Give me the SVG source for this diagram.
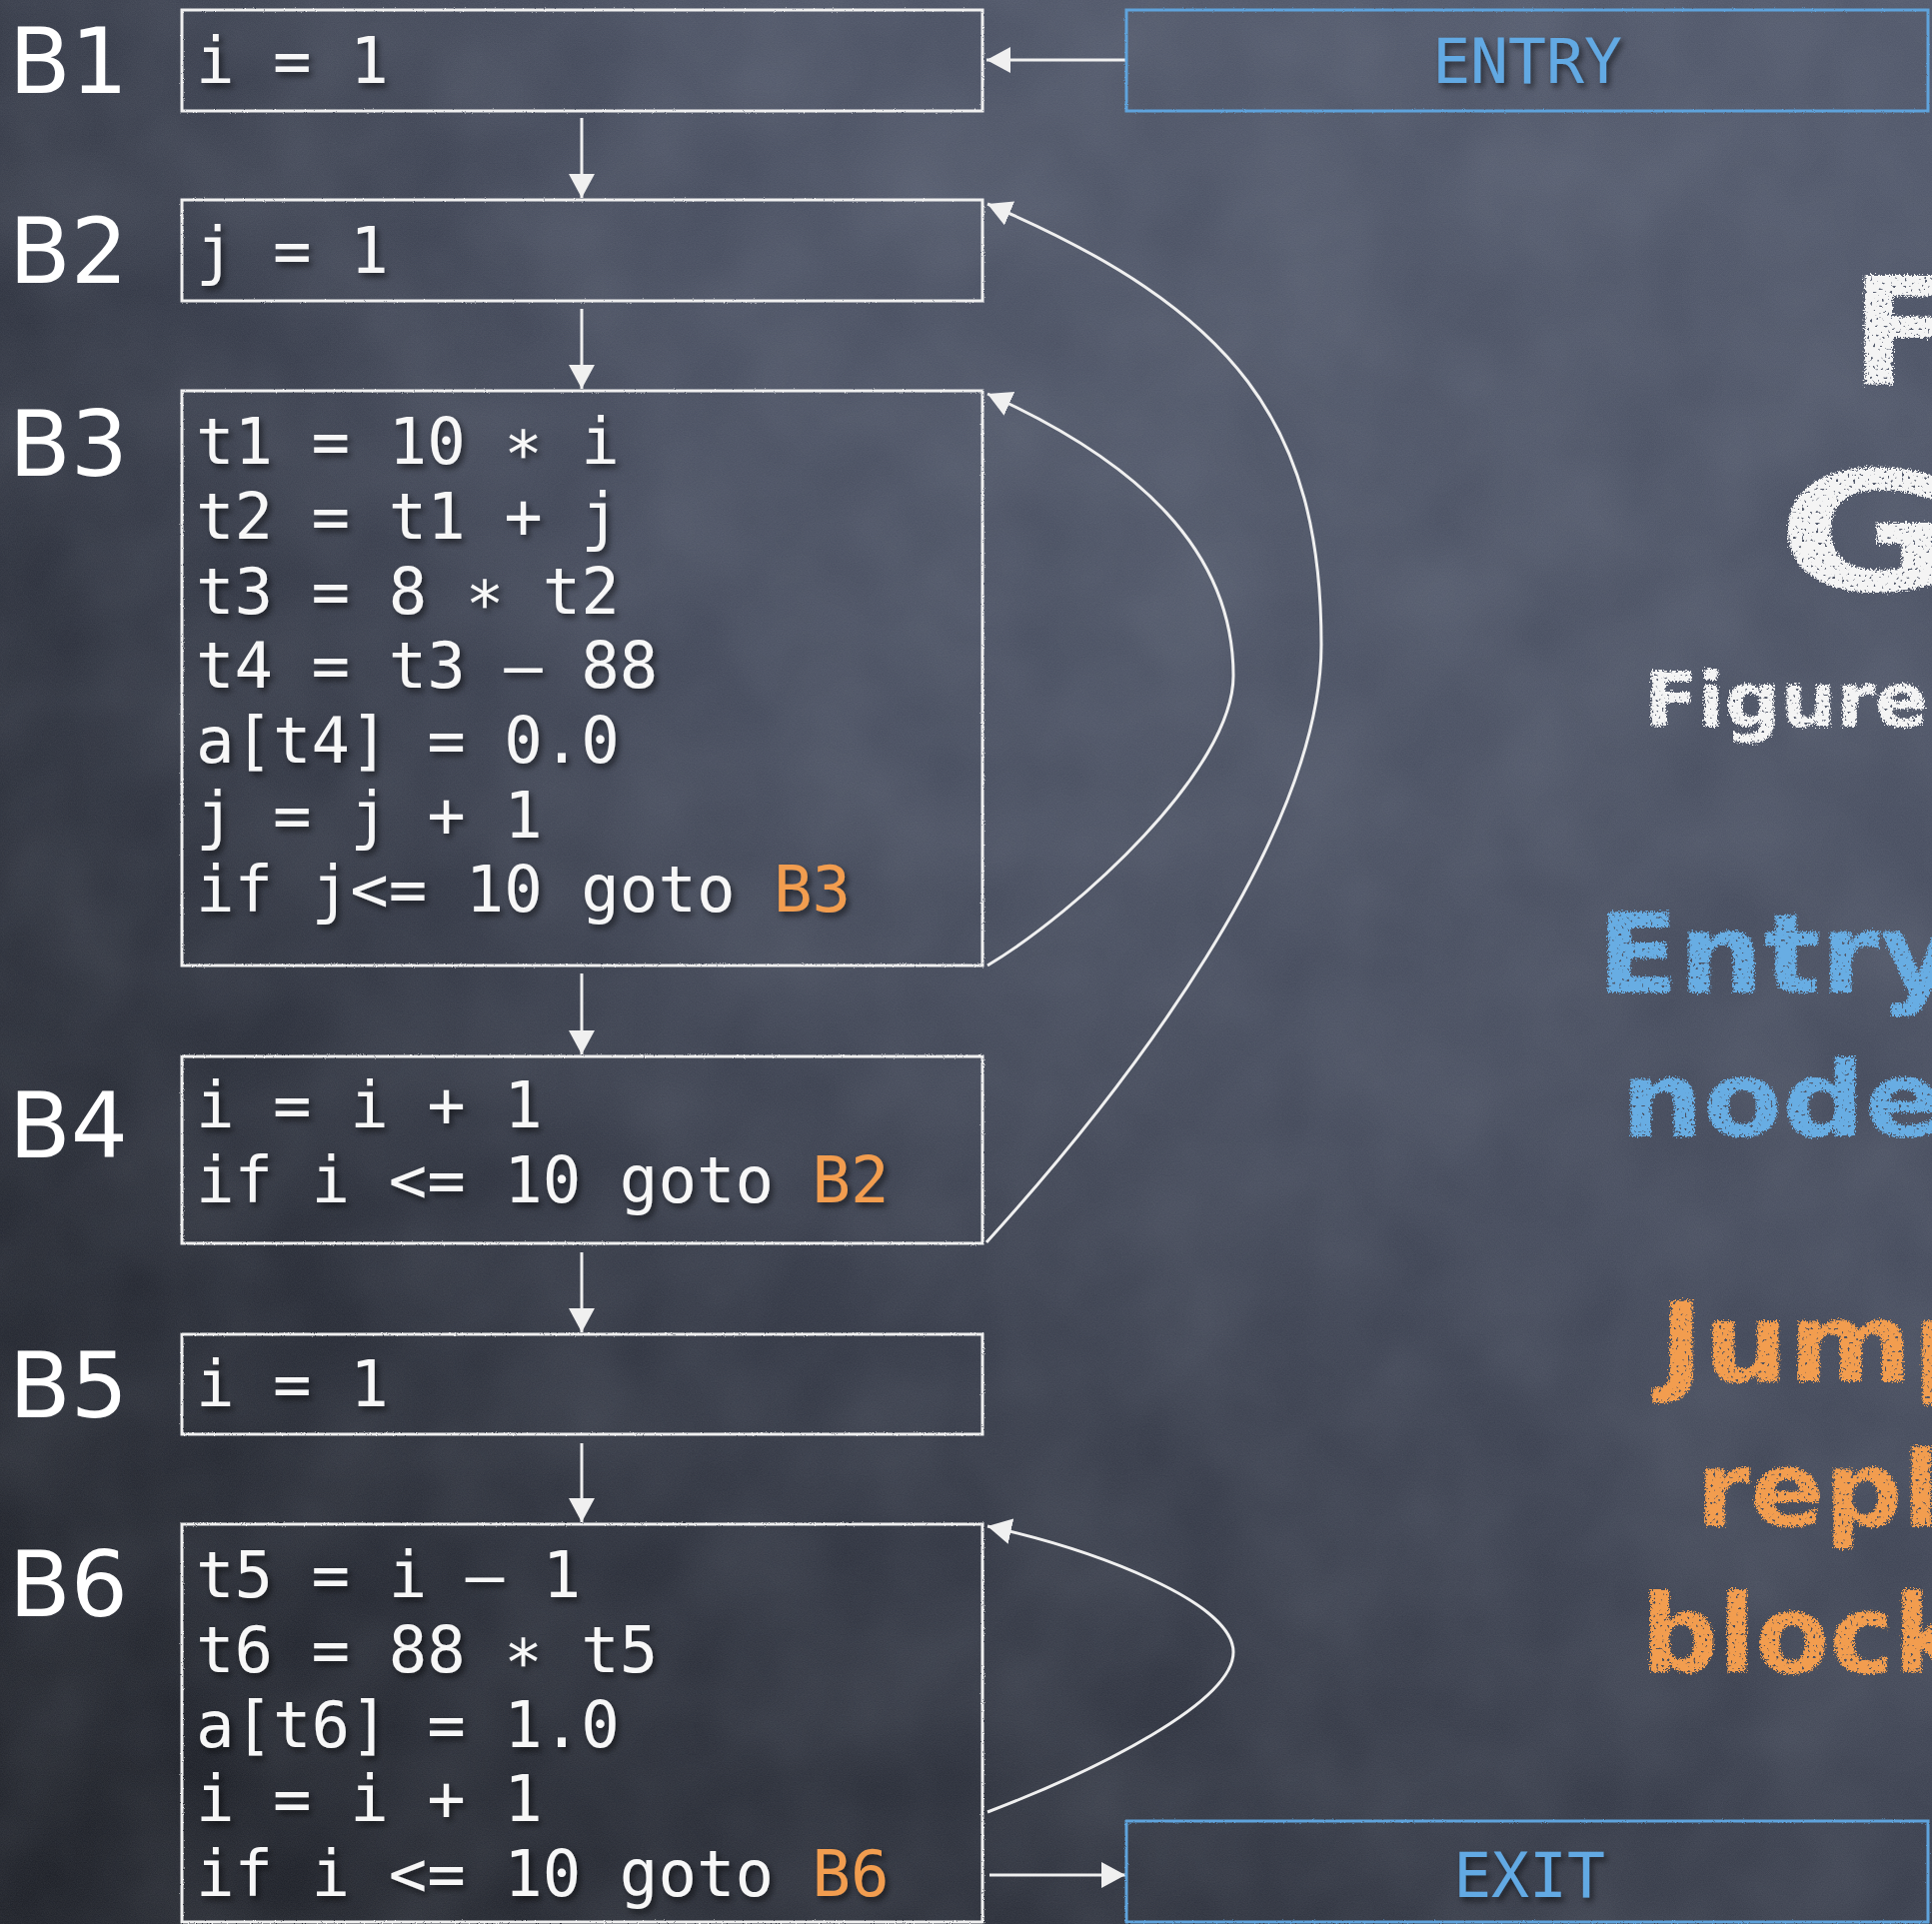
<svg xmlns="http://www.w3.org/2000/svg" width="1933" height="1925" viewBox="0 0 1933 1925">
  <defs>
    <linearGradient id="bg" x1="0.85" y1="0" x2="0.15" y2="1">
      <stop offset="0" stop-color="#4c5366"/>
      <stop offset="0.45" stop-color="#3f4556"/>
      <stop offset="1" stop-color="#1d2028"/>
    </linearGradient>
    <linearGradient id="leftdark" x1="0" y1="0" x2="1" y2="0">
      <stop offset="0" stop-color="#15181f" stop-opacity="0.35"/>
      <stop offset="0.35" stop-color="#15181f" stop-opacity="0"/>
    </linearGradient>
    <radialGradient id="spot" cx="0.6" cy="0.28" r="0.45">
      <stop offset="0" stop-color="#5a6275" stop-opacity="0.3"/>
      <stop offset="1" stop-color="#5a6275" stop-opacity="0"/>
    </radialGradient>
    <filter id="grain" x="0" y="0" width="100%" height="100%">
      <feTurbulence type="fractalNoise" baseFrequency="0.85" numOctaves="2" seed="7"/>
      <feColorMatrix type="matrix" values="0 0 0 0 1  0 0 0 0 1  0 0 0 0 1  0.08 0 0 0 0"/>
    </filter>
    <filter id="blotch" x="0" y="0" width="100%" height="100%">
      <feTurbulence type="fractalNoise" baseFrequency="0.008" numOctaves="3" seed="2"/>
      <feColorMatrix type="matrix" values="0 0 0 0 0.6  0 0 0 0 0.65  0 0 0 0 0.75  0.14 0 0 0 -0.03"/>
    </filter>
    <filter id="shadow" x="-5%" y="-20%" width="115%" height="150%">
      <feDropShadow dx="3" dy="4" stdDeviation="3" flood-color="#000" flood-opacity="0.55"/>
    </filter>
    <filter id="chalk" x="-5%" y="-10%" width="115%" height="130%">
      <feTurbulence type="fractalNoise" baseFrequency="0.6" numOctaves="2" seed="4" result="n"/>
      <feDisplacementMap in="SourceGraphic" in2="n" scale="9" xChannelSelector="R" yChannelSelector="G" result="d"/>
      <feTurbulence type="fractalNoise" baseFrequency="0.35" numOctaves="1" seed="11" result="m"/>
      <feColorMatrix in="m" type="matrix" values="0 0 0 0 0  0 0 0 0 0  0 0 0 0 0  0 0 0 -12 8.6" result="mask"/>
      <feComposite in="d" in2="mask" operator="in"/>
    </filter>
    <filter id="rough" x="-2%" y="-2%" width="104%" height="104%">
      <feTurbulence type="fractalNoise" baseFrequency="0.9" numOctaves="1" seed="9" result="n"/>
      <feDisplacementMap in="SourceGraphic" in2="n" scale="2.5" xChannelSelector="R" yChannelSelector="G"/>
    </filter>
    <marker id="arrow" markerWidth="24" markerHeight="26" refX="24" refY="13" orient="auto" markerUnits="userSpaceOnUse">
      <path d="M0,0 L24,13 L0,26 Z" fill="#f0f0f0"/>
    </marker>
  </defs>
  <style>
    .box { fill: none; stroke: #f0f0f0; stroke-width: 3; }
    .bluebox { fill: none; stroke: #5fa3dc; stroke-width: 3; }
    .code { font-family: "DejaVu Sans Mono", "Liberation Mono", monospace; font-size: 64px; fill: #f7f7f7; }
    .lbl { font-family: "DejaVu Sans", "Liberation Sans", sans-serif; font-size: 90px; fill: #ffffff; }
    .term { font-family: "DejaVu Sans Mono", "Liberation Mono", monospace; font-size: 63px; fill: #62a9e3; text-anchor: middle; }
    .or { fill: #f29d4f; }
    .edge { fill: none; stroke: #f0f0f0; stroke-width: 3; }
    .hand { font-family: "DejaVu Sans", "Liberation Sans", sans-serif; font-weight: bold; }
  </style>

  <rect x="0" y="0" width="1933" height="1925" fill="url(#bg)"/>
  <rect x="0" y="0" width="1933" height="1925" fill="url(#leftdark)"/>
  <rect x="0" y="0" width="1933" height="1925" fill="url(#spot)"/>
  <rect x="0" y="0" width="1933" height="1925" filter="url(#blotch)"/>
  <rect x="0" y="0" width="1933" height="1925" filter="url(#grain)"/>

  <g id="edges">
    <line class="edge" x1="1126" y1="60" x2="987" y2="60" marker-end="url(#arrow)"/>
    <line class="edge" x1="582" y1="118" x2="582" y2="198" marker-end="url(#arrow)"/>
    <line class="edge" x1="582" y1="309" x2="582" y2="389" marker-end="url(#arrow)"/>
    <line class="edge" x1="582" y1="974" x2="582" y2="1055" marker-end="url(#arrow)"/>
    <line class="edge" x1="582" y1="1253" x2="582" y2="1333" marker-end="url(#arrow)"/>
    <line class="edge" x1="582" y1="1444" x2="582" y2="1523" marker-end="url(#arrow)"/>
    <path class="edge" d="M 988 966 C 1078 912, 1234 770, 1234 676 C 1234 550, 1137 461, 988 394" marker-end="url(#arrow)"/>
    <path class="edge" d="M 987 1243 C 1127 1089, 1322 835, 1322 645 C 1322 425, 1237 310, 988 204" marker-end="url(#arrow)"/>
    <path class="edge" d="M 988 1813 C 1098 1771, 1234 1703, 1234 1653 C 1234 1603, 1097 1551, 988 1527" marker-end="url(#arrow)"/>
    <line class="edge" x1="990" y1="1876" x2="1126" y2="1876" marker-end="url(#arrow)"/>
  </g>

  <g id="node-entry">
    <rect class="bluebox" x="1127" y="10" width="802" height="101" filter="url(#rough)"/>
    <text class="term" x="1528" y="83" filter="url(#shadow)">ENTRY</text>
  </g>

  <g id="node-B1">
    <text class="lbl" x="9" y="93">B1</text>
    <rect class="box" x="182" y="10" width="801" height="101" filter="url(#rough)"/>
    <text class="code" x="196" y="83" filter="url(#shadow)">i = 1</text>
  </g>

  <g id="node-B2">
    <text class="lbl" x="9" y="283">B2</text>
    <rect class="box" x="182" y="200" width="801" height="101" filter="url(#rough)"/>
    <text class="code" x="196" y="273" filter="url(#shadow)">j = 1</text>
  </g>

  <g id="node-B3">
    <text class="lbl" x="9" y="476">B3</text>
    <rect class="box" x="182" y="391" width="801" height="575" filter="url(#rough)"/>
    <g class="code" filter="url(#shadow)">
      <text x="196" y="464">t1 = 10 ∗ i</text>
      <text x="196" y="539">t2 = t1 + j</text>
      <text x="196" y="614">t3 = 8 ∗ t2</text>
      <text x="196" y="688">t4 = t3 – 88</text>
      <text x="196" y="763">a[t4] = 0.0</text>
      <text x="196" y="838">j = j + 1</text>
      <text x="196" y="912">if j&lt;= 10 goto <tspan class="or">B3</tspan></text>
    </g>
  </g>

  <g id="node-B4">
    <text class="lbl" x="9" y="1158">B4</text>
    <rect class="box" x="182" y="1057" width="801" height="187" filter="url(#rough)"/>
    <g class="code" filter="url(#shadow)">
      <text x="196" y="1128">i = i + 1</text>
      <text x="196" y="1203">if i &lt;= 10 goto <tspan class="or">B2</tspan></text>
    </g>
  </g>

  <g id="node-B5">
    <text class="lbl" x="9" y="1418">B5</text>
    <rect class="box" x="182" y="1335" width="801" height="100" filter="url(#rough)"/>
    <text class="code" x="196" y="1407" filter="url(#shadow)">i = 1</text>
  </g>

  <g id="node-B6">
    <text class="lbl" x="9" y="1617">B6</text>
    <rect class="box" x="182" y="1525" width="801" height="398" filter="url(#rough)"/>
    <g class="code" filter="url(#shadow)">
      <text x="196" y="1598">t5 = i – 1</text>
      <text x="196" y="1673">t6 = 88 ∗ t5</text>
      <text x="196" y="1748">a[t6] = 1.0</text>
      <text x="196" y="1822">i = i + 1</text>
      <text x="196" y="1897">if i &lt;= 10 goto <tspan class="or">B6</tspan></text>
    </g>
  </g>

  <g id="node-exit">
    <rect class="bluebox" x="1127" y="1822" width="802" height="101" filter="url(#rough)"/>
    <text class="term" x="1530" y="1898" filter="url(#shadow)">EXIT</text>
  </g>

  <g id="notes" class="hand" filter="url(#chalk)">
    <text x="1852" y="384" font-size="150" fill="#f4f4f4">F</text>
    <text x="1778" y="591" font-size="166" fill="#f4f4f4" textLength="180" lengthAdjust="spacingAndGlyphs">G</text>
    <text x="1645" y="727" font-size="76" fill="#f4f4f4" textLength="284" lengthAdjust="spacingAndGlyphs">Figure</text>
    <text x="1598" y="993" font-size="110" fill="#68ade3" textLength="360" lengthAdjust="spacingAndGlyphs">Entry</text>
    <text x="1622" y="1137" font-size="105" fill="#68ade3" textLength="322" lengthAdjust="spacingAndGlyphs">node</text>
    <text x="1660" y="1382" font-size="110" fill="#f29d4f" textLength="339" lengthAdjust="spacingAndGlyphs">Jump</text>
    <text x="1697" y="1527" font-size="105" fill="#f29d4f" textLength="244" lengthAdjust="spacingAndGlyphs">repl</text>
    <text x="1642" y="1673" font-size="108" fill="#f29d4f">block</text>
  </g>
</svg>
